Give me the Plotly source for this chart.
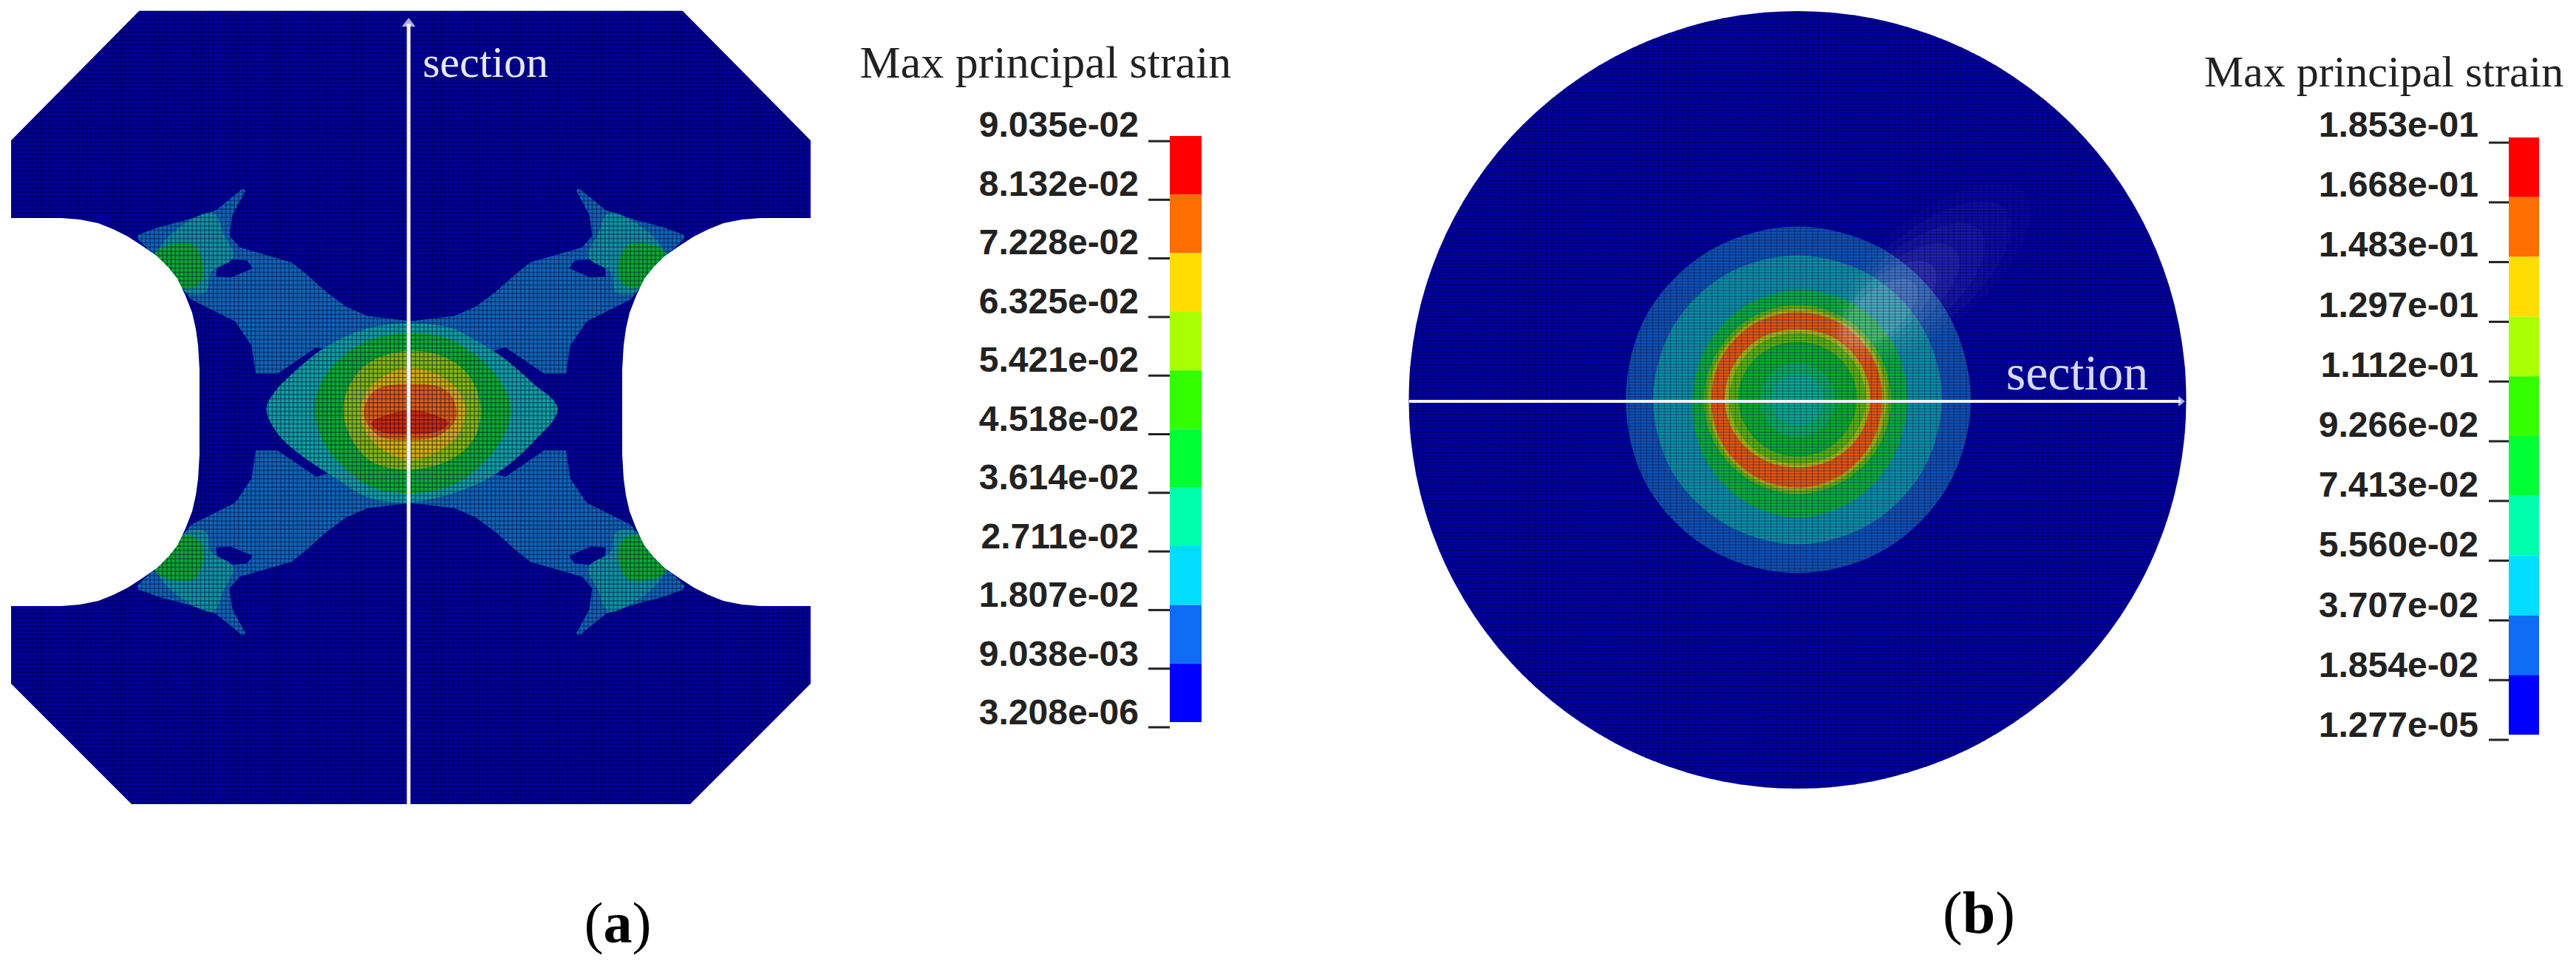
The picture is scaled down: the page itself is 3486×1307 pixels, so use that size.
import numpy as np
import plotly.graph_objects as go

WIDTH = 3486
HEIGHT = 1307

# colour scale, top band first
BAND_COLORS = ["#ff0000", "#ff6e00", "#ffdd00", "#aaff00", "#33ff00", "#00ff33",
               "#00ffaa", "#00ddff", "#0f6cf5", "#0000ff"]
LABELS_A = ["9.035e-02", "8.132e-02", "7.228e-02", "6.325e-02", "5.421e-02", "4.518e-02",
            "3.614e-02", "2.711e-02", "1.807e-02", "9.038e-03", "3.208e-06"]
LABELS_B = ["1.853e-01", "1.668e-01", "1.483e-01", "1.297e-01", "1.112e-01", "9.266e-02",
            "7.413e-02", "5.560e-02", "3.707e-02", "1.854e-02", "1.277e-05"]

# specimen (a), picture pixels
NOTCH_ARC = [(0, 295), (83, 295), (108, 297), (133, 302), (153, 310), (173, 320), (193, 333),
             (213, 347), (228, 362), (240, 377), (251, 400), (260, 423), (265, 445), (268, 467),
             (270, 500), (270, 557)]
CHAMFER_TOP = [(0, 0), (190, 0), (190, 13), (15, 190), (0, 190)]
CHAMFER_BOTTOM = [(0, 925), (15, 925), (178, 1088), (178, 1100), (0, 1100)]

# upper left quadrant of the strain bands, mirrored for the other three
ARM_LOW = [(187, 320), (215, 310), (253, 300), (293, 287), (330, 257), (312, 290), (308, 320),
           (323, 337), (393, 357), (413, 373), (440, 397), (467, 417), (497, 430), (535, 435),
           (556, 437), (556, 480), (444, 472), (428, 467), (375, 503), (348, 503), (343, 467),
           (320, 433), (260, 403), (240, 377), (213, 347)]
ARM_GAP = [(297, 352), (333, 355), (338, 362), (312, 373), (295, 372)]
CORNER_TEAL = [(217, 340), (287, 290), (300, 317), (313, 347), (283, 367), (277, 393), (253, 393)]
CORNER_GREEN = [(213, 343), (260, 333), (273, 363), (267, 383), (247, 387)]

# centre of specimen (a), outer band first
LENS_TEAL = [(363, 553), (375, 530), (402, 503), (440, 473), (497, 447), (555, 440), (612, 447),
             (643, 463), (681, 487), (719, 520), (752, 553), (719, 597), (673, 637), (627, 660),
             (555, 677), (497, 670), (459, 647), (413, 617), (379, 587)]
LENS_GREEN = [(428, 553), (440, 513), (474, 477), (509, 460), (555, 453), (604, 460), (643, 483),
              (677, 520), (689, 553), (677, 593), (643, 633), (604, 657), (555, 665), (505, 657),
              (470, 633), (440, 597)]
LENS_LIME = [(467, 553), (478, 517), (505, 490), (555, 477), (604, 487), (635, 513), (648, 553),
             (639, 593), (608, 620), (555, 633), (505, 623), (478, 593)]
LENS_YELLOW = [(490, 557), (501, 527), (528, 507), (555, 500), (593, 510), (620, 533), (627, 557),
               (616, 590), (589, 610), (555, 620), (520, 607), (497, 583)]
LENS_ORANGE = [(495, 560), (509, 530), (555, 522), (597, 527), (612, 543), (614, 567), (593, 587),
               (555, 593), (513, 587)]
LENS_RED = [(505, 573), (528, 563), (555, 557), (585, 563), (604, 573), (585, 583), (555, 585),
            (520, 583)]

# disc (b): band radius every 30 degrees from E going counter clockwise, outer band first
RING_BLUE = [232, 232, 232, 232, 232, 232, 230, 232, 232, 232, 232, 232]
RING_TEAL = [193, 193, 193, 193, 193, 193, 193, 193, 192, 193, 192, 192]
RING_GREEN = [146, 148, 148, 146, 143, 140, 140, 145, 152, 157, 153, 148]
RING_LIME = [124, 124, 125, 126, 125, 124, 124, 124, 124, 125, 124, 124]
RING_YELLOW = [118, 119, 120, 121, 120, 119, 118, 119, 120, 120, 119, 118]
RING_ORANGE = [112, 114, 116, 116, 116, 115, 114, 115, 116, 116, 115, 113]
RING_INNER_YELLOW = [96, 96, 95, 93, 95, 96, 96, 94, 91, 89, 91, 94]
RING_INNER_LIME = [90, 90, 89, 88, 89, 90, 90, 88, 86, 84, 86, 88]
RING_INNER_GREEN = [78, 78, 77, 76, 77, 78, 78, 76, 75, 74, 75, 76]
RING_CORE_OUTER = [48, 48, 48, 48, 48, 48, 48, 48, 48, 48, 48, 48]
RING_CORE = [33, 33, 33, 33, 33, 33, 33, 33, 33, 33, 33, 33]

DISC_CX, DISC_CY, DISC_R = 2432.5, 541, 526
DARK_BLUE = "#00009e"
MIRROR_X, MIRROR_Y = 556, 557.5


def add_poly(fig, points, color, shape="linear", edge=True):
    xs = [p[0] for p in points] + [points[0][0]]
    ys = [p[1] for p in points] + [points[0][1]]
    # soft edge, the reference is a blurred screenshot
    line = dict(color=color, width=5 if edge else 0, shape=shape)
    fig.add_trace(go.Scatter(x=xs, y=ys, mode="lines", fill="toself", fillcolor=color, line=line))


def mirrored(points):
    return [
        points,
        [(2 * MIRROR_X - x, y) for x, y in points],
        [(x, 2 * MIRROR_Y - y) for x, y in points],
        [(2 * MIRROR_X - x, 2 * MIRROR_Y - y) for x, y in points],
    ]


def ring_points(radii):
    angles = np.radians(np.arange(len(radii)) * 360 / len(radii))
    return [(DISC_CX + r * np.cos(a), DISC_CY - r * np.sin(a)) for r, a in zip(radii, angles)]


def ellipse_points(cx, cy, a, b, tilt):
    t = np.radians(np.arange(0, 360, 15))
    rot = np.radians(tilt)
    xs = cx + a * np.cos(t) * np.cos(rot) + b * np.sin(t) * np.sin(rot)
    ys = cy - a * np.cos(t) * np.sin(rot) + b * np.sin(t) * np.cos(rot)
    return list(zip(xs, ys))


def grid_lines(xs, ys):
    gx, gy = [], []
    for x in xs:
        gx += [x, x, None]
        gy += [ys[0], ys[-1], None]
    for y in ys:
        gx += [xs[0], xs[-1], None]
        gy += [y, y, None]
    return gx, gy


def add_colorbar(fig, labels, bar_x, bar_w, bar_top, step, tick_x0, label_x, label_y0, label_step):
    tops = [bar_top + i * step for i in range(len(BAND_COLORS))]
    fig.add_trace(go.Bar(x=[bar_x] * len(tops), y=[step] * len(tops), base=tops, width=bar_w,
                         marker=dict(color=BAND_COLORS, line=dict(width=0))))
    tx, ty = [], []
    for i in range(len(labels)):
        tx += [tick_x0, bar_x - bar_w / 2, None]
        ty += [bar_top + 7 + i * step, bar_top + 7 + i * step, None]
    fig.add_trace(go.Scatter(x=tx, y=ty, mode="lines", line=dict(color="#222222", width=3)))
    fig.add_trace(go.Scatter(x=[label_x] * len(labels),
                             y=[label_y0 + i * label_step for i in range(len(labels))],
                             mode="text", text=[f"<b>{t}</b>" for t in labels],
                             textposition="middle left",
                             textfont=dict(family="Liberation Sans", size=48, color="#222222")))


def add_text(fig, x, y, text, size, color="#222222"):
    fig.add_trace(go.Scatter(x=[x], y=[y], mode="text", text=[text], textposition="middle center",
                             textfont=dict(family="Liberation Serif", size=size, color=color)))


fig = go.Figure()

# specimen (a)
add_poly(fig, [(15, 15), (1097, 15), (1097, 1088), (15, 1088)], DARK_BLUE, edge=False)
for poly in mirrored(ARM_LOW):
    add_poly(fig, poly, "#1068b8")
for poly in mirrored(ARM_GAP):
    add_poly(fig, poly, DARK_BLUE)
for poly in mirrored(CORNER_TEAL):
    add_poly(fig, poly, "#0e98a4", shape="spline")
for poly in mirrored(CORNER_GREEN):
    add_poly(fig, poly, "#0cac30", shape="spline")
for band, color in [(LENS_TEAL, "#0ea4a4"), (LENS_GREEN, "#0cb030"), (LENS_LIME, "#84bc10"),
                    (LENS_YELLOW, "#d8b010"), (LENS_ORANGE, "#e06010"), (LENS_RED, "#d02c08")]:
    add_poly(fig, band, color, shape="spline")

gx, gy = grid_lines(np.arange(15, 1098, 5.7), np.arange(15, 1089, 5.7))
fig.add_trace(go.Scatter(x=gx, y=gy, mode="lines", line=dict(color="rgba(0,0,50,0.35)", width=2)))

# white cut outs on top of the mesh
arc = NOTCH_ARC + [(x, 2 * MIRROR_Y - y) for x, y in reversed(NOTCH_ARC[:-1])]
add_poly(fig, arc, "#ffffff", edge=False)
add_poly(fig, [(2 * MIRROR_X - x, y) for x, y in arc], "#ffffff", edge=False)
add_poly(fig, CHAMFER_TOP, "#ffffff", edge=False)
add_poly(fig, [(2 * MIRROR_X - x, y) for x, y in CHAMFER_TOP], "#ffffff", edge=False)
add_poly(fig, CHAMFER_BOTTOM, "#ffffff", edge=False)
add_poly(fig, [(2 * MIRROR_X - x, y) for x, y in CHAMFER_BOTTOM], "#ffffff", edge=False)
add_poly(fig, [(0, 0), (1100, 0), (1100, 14), (0, 14)], "#ffffff", edge=False)
add_poly(fig, [(0, 0), (15, 0), (15, 1100), (0, 1100)], "#ffffff", edge=False)
add_poly(fig, [(1097, 0), (1110, 0), (1110, 1100), (1097, 1100)], "#ffffff", edge=False)

fig.add_trace(go.Scatter(x=[553, 553], y=[1089, 32], mode="lines+markers",
                         line=dict(color="#f4f4ff", width=5),
                         marker=dict(symbol="triangle-up", size=[0, 16], color="#f4f4ff",
                                     line=dict(width=0))))
add_text(fig, 657, 89, "section", 60, "#e8e8ff")

# disc (b)
fig.add_shape(type="circle", x0=DISC_CX - DISC_R, x1=DISC_CX + DISC_R, y0=DISC_CY - DISC_R,
              y1=DISC_CY + DISC_R, fillcolor=DARK_BLUE, line=dict(width=0), layer="below")
for radii, color in [(RING_BLUE, "#1050b0"), (RING_TEAL, "#0e8ea4"), (RING_GREEN, "#0cac40"),
                     (RING_LIME, "#60b014"), (RING_YELLOW, "#a8b014"), (RING_ORANGE, "#e05810"),
                     (RING_INNER_YELLOW, "#a8b814"), (RING_INNER_LIME, "#5cb410"),
                     (RING_INNER_GREEN, "#0cac30"), (RING_CORE_OUTER, "#0cac60"),
                     (RING_CORE, "#0ca88c")]:
    add_poly(fig, ring_points(radii), color, shape="spline")

# pale glare on the upper right of the rings
for cx, cy, a, b, alpha in [(2610, 370, 170, 75, 0.025), (2600, 380, 150, 65, 0.03),
                            (2585, 392, 125, 55, 0.04), (2570, 402, 100, 45, 0.05),
                            (2555, 412, 80, 38, 0.07), (2545, 422, 60, 30, 0.09)]:
    add_poly(fig, ellipse_points(cx, cy, a, b, 40), f"rgba(255,255,255,{alpha})", edge=False)

mesh_x, mesh_y = [], []
for y in np.arange(DISC_CY - DISC_R + 2, DISC_CY + DISC_R, 4):
    half = np.sqrt(max(DISC_R ** 2 - (y - DISC_CY) ** 2, 0))
    mesh_x += [DISC_CX - half, DISC_CX + half, None]
    mesh_y += [y, y, None]
fig.add_trace(go.Scatter(x=mesh_x, y=mesh_y, mode="lines",
                         line=dict(color="rgba(0,0,50,0.3)", width=1.5)))
mesh_x, mesh_y = [], []
for x in np.arange(DISC_CX - DISC_R + 2, DISC_CX + DISC_R, 8):
    half = np.sqrt(max(DISC_R ** 2 - (x - DISC_CX) ** 2, 0))
    mesh_x += [x, x, None]
    mesh_y += [DISC_CY - half, DISC_CY + half, None]
fig.add_trace(go.Scatter(x=mesh_x, y=mesh_y, mode="lines",
                         line=dict(color="rgba(0,0,50,0.25)", width=1.5)))

fig.add_trace(go.Scatter(x=[1907, 2951], y=[543, 543], mode="lines+markers",
                         line=dict(color="#f4f4ff", width=4),
                         marker=dict(symbol="triangle-right", size=[0, 12], color="#f4f4ff",
                                     line=dict(width=0))))
add_text(fig, 2811, 510, "section", 68, "#d8d8ff")

# colour bars
add_text(fig, 1415, 89, "Max principal strain", 62)
add_colorbar(fig, LABELS_A, 1604.5, 43, 184, 79.3, 1554, 1541, 173, 79.5)
add_text(fig, 3226, 102, "Max principal strain", 60)
add_colorbar(fig, LABELS_B, 3415.5, 41, 186, 80.8, 3368, 3354, 173, 81.2)

add_text(fig, 836, 1255, "(<b>a</b>)", 78, "#000000")
add_text(fig, 2678, 1242, "(<b>b</b>)", 80, "#000000")

fig.update_layout(
    width=WIDTH,
    height=HEIGHT,
    margin=dict(l=0, r=0, t=0, b=0),
    paper_bgcolor="white",
    plot_bgcolor="white",
    showlegend=False,
    hovermode=False,
    barmode="overlay",
    xaxis=dict(range=[0, WIDTH], visible=False),
    yaxis=dict(range=[HEIGHT, 0], visible=False),
)

fig.write_html("out.html", config={"displayModeBar": False},
               post_script="document.body.style.margin='0';")
